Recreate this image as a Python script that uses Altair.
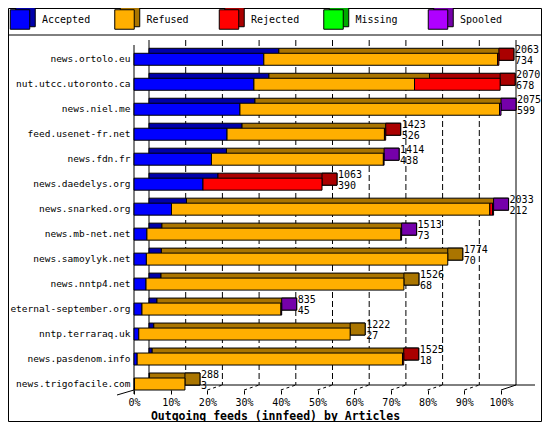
import altair as alt
import pandas as pd

hosts = ["news.ortolo.eu", "nut.utcc.utoronto.ca", "news.niel.me", "feed.usenet-fr.net",
         "news.fdn.fr", "news.daedelys.org", "news.snarked.org", "news.mb-net.net",
         "news.samoylyk.net", "news.nntp4.net", "eternal-september.org", "nntp.terraraq.uk",
         "news.pasdenom.info", "news.trigofacile.com"]
accepted = [734, 678, 599, 526, 438, 390, 212, 73, 70, 68, 45, 27, 18, 3]
refused = [1322, 908, 1468, 890, 972, 0, 1800, 1436, 1704, 1458, 786, 1195, 1500, 285]
rejected = [7, 484, 0, 7, 0, 673, 15, 0, 0, 0, 0, 0, 7, 0]
missing = [0, 0, 0, 0, 0, 0, 0, 0, 0, 0, 0, 0, 0, 0]
spooled = [0, 0, 8, 0, 4, 0, 6, 4, 0, 0, 4, 0, 0, 0]

series = ["Accepted", "Refused", "Rejected", "Missing", "Spooled"]
colors = ["#0000FF", "#FFAF00", "#FF0000", "#00FF00", "#AF00FF"]
darks = ["#0000AA", "#AA7500", "#AA0000", "#00AA00", "#7500AA"]
tick_pcts = [0, 10, 20, 30, 40, 50, 60, 70, 80, 90, 100]

FONT = "DejaVu Sans Mono"

# ---- derived tables ----
rows, tots = [], []
for i, h in enumerate(hosts):
    start = 0
    last = None
    for s, vals in zip(series, [accepted, refused, rejected, missing, spooled]):
        v = vals[i]
        if v > 0:
            rows.append(dict(host=h, series=s, start=start, end=start + v))
            start += v
            last = s
    tots.append(dict(host=h, total=start, acc=accepted[i], last=last))
seg = pd.DataFrame(rows)
tot = pd.DataFrame(tots)
maxtotal = int(tot["total"].max())
ticks = pd.DataFrame({"tick": [maxtotal * p / 100 for p in tick_pcts], "pct": tick_pcts})
inner_ticks = ticks[(ticks.pct > 0) & (ticks.pct < 100)]
end_tick = ticks[ticks.pct == 100]
one = pd.DataFrame({"a": [0]})
leg = pd.DataFrame({"series": series})

xscale = alt.Scale(domain=[0, maxtotal], nice=False, zero=True)
yscale = alt.Scale(paddingInner=0.52, paddingOuter=0.266, align=1)
cscale = alt.Scale(domain=series, range=colors)
dscale = alt.Scale(domain=series, range=darks)

XAXIS = alt.Axis(
    values=list(ticks["tick"]),
    labelExpr=f"round(datum.value / {maxtotal} * 100) + '%'",
    domain=False, grid=False, ticks=True, tickSize=4, tickColor="black",
    labelFont=FONT, labelFontSize=10, labelColor="black", labelPadding=3,
    labelFlush=False, labelOverlap=False,
    title="Outgoing feeds (innfeed) by Articles", titleFont=FONT, titleFontSize=11.5,
    titleFontWeight="bold", titleColor="black", titleX=141, titleY=26,
    titleAlign="center", titleBaseline="middle")
YAXIS = alt.Axis(
    title=None, domain=False, ticks=False, labelPadding=4, labelFont=FONT,
    labelFontSize=9.5, labelColor="black", labelLimit=300)


def X(f):
    return alt.X(f, type="quantitative", scale=xscale, axis=XAXIS)


Y = alt.Y("host:N", sort=hosts, scale=yscale, axis=YAXIS)

# back wall grid (dashed)
grid = alt.Chart(inner_ticks).mark_rule(color="black", strokeDash=[6, 3], xOffset=15).encode(
    x=X("tick"), y=alt.value(0), y2=alt.value(345))
walls = alt.Chart(ticks[ticks.pct.isin([0, 100])]).mark_rule(color="black", xOffset=15).encode(
    x=X("tick"), y=alt.value(0), y2=alt.value(345))
front_wall = alt.Chart(one).mark_rule(color="black").encode(
    x=alt.value(0), y=alt.value(5), y2=alt.value(354))
floor_back = alt.Chart(one).mark_rule(color="black").encode(
    x=alt.value(15), x2=alt.value(401), y=alt.value(345))
left_slant = alt.Chart(one).mark_rule(color="black").encode(
    x=alt.value(-17), x2=alt.value(0), y=alt.value(355), y2=alt.value(350))
slants = alt.Chart(inner_ticks).mark_rule(color="black", strokeDash=[3, 3], x2Offset=15).encode(
    x=X("tick"), x2=alt.X2("tick"), y=alt.value(350), y2=alt.value(345))
slant_end = alt.Chart(end_tick).mark_rule(color="black", x2Offset=15).encode(
    x=X("tick"), x2=alt.X2("tick"), y=alt.value(350), y2=alt.value(345))

# 3D bars
back = alt.Chart(seg).mark_bar(stroke="black", strokeWidth=1, xOffset=15, x2Offset=15,
                               yOffset=-5, y2Offset=-5).encode(
    x=X("start"), x2=alt.X2("end"), y=Y,
    fill=alt.Fill("series:N", scale=dscale, legend=None))
caps = alt.Chart(tot).mark_bar(stroke="black", strokeWidth=1, x2Offset=15,
                               yOffset=-5, y2Offset=-5).encode(
    x=X("total"), x2=alt.X2("total"), y=Y,
    fill=alt.Fill("last:N", scale=dscale, legend=None))
front = alt.Chart(seg).mark_bar(stroke="black", strokeWidth=1, opacity=1).encode(
    x=X("start"), x2=alt.X2("end"), y=Y,
    color=alt.Color("series:N", scale=cscale, legend=None))

lab1 = alt.Chart(tot).mark_text(align="left", baseline="middle", dx=16, dy=-9.5,
                                font=FONT, fontSize=10, color="black").encode(
    x=X("total"), y=Y, text="total:Q")
lab2 = alt.Chart(tot).mark_text(align="left", baseline="middle", dx=16, dy=1.5,
                                font=FONT, fontSize=10, color="black").encode(
    x=X("total"), y=Y, text="acc:Q")

sep = alt.Chart(one).mark_rule(color="black").encode(
    x=alt.value(-126), x2=alt.value(408), y=alt.value(-5))
border = alt.Chart(one).mark_rect(filled=False, stroke="black", strokeWidth=1).encode(
    x=alt.value(-125.5), x2=alt.value(407.5), y=alt.value(-31.5), y2=alt.value(381.5))

main = alt.layer(grid, walls, front_wall, floor_back, left_slant, slants, slant_end,
                 back, caps, front, lab1, lab2, sep, border)

legx = alt.X("series:N", sort=series,
             scale=alt.Scale(type="point", domain=series, range=[-114, 304], padding=0),
             axis=None)
leg_back = alt.Chart(leg).mark_square(size=380, xOffset=5.5, yOffset=-2.5, stroke="black",
                                      strokeWidth=1, opacity=1, filled=True).encode(
    x=legx, y=alt.value(-20.5), fill=alt.Fill("series:N", scale=dscale, legend=None))
leg_front = alt.Chart(leg).mark_square(size=380, stroke="black", strokeWidth=1,
                                       opacity=1, filled=True).encode(
    x=legx, y=alt.value(-20.5), color=alt.Color("series:N", scale=cscale, legend=None))
leg_text = alt.Chart(leg).mark_text(align="left", baseline="middle", dx=22, font=FONT,
                                    fontSize=10, color="black").encode(
    x=legx, y=alt.value(-20.5), text="series:N")
legend = alt.layer(leg_back, leg_front, leg_text)

chart = alt.layer(main, legend).resolve_scale(x="independent").properties(
    width=367, height=350,
    autosize=alt.AutoSizeParams(type="none"),
    padding={"left": 126, "top": 32, "right": 41, "bottom": 32},
    background="white",
).configure_view(stroke=None)

chart.save("out.html", embed_options={"renderer": "svg", "actions": False})
